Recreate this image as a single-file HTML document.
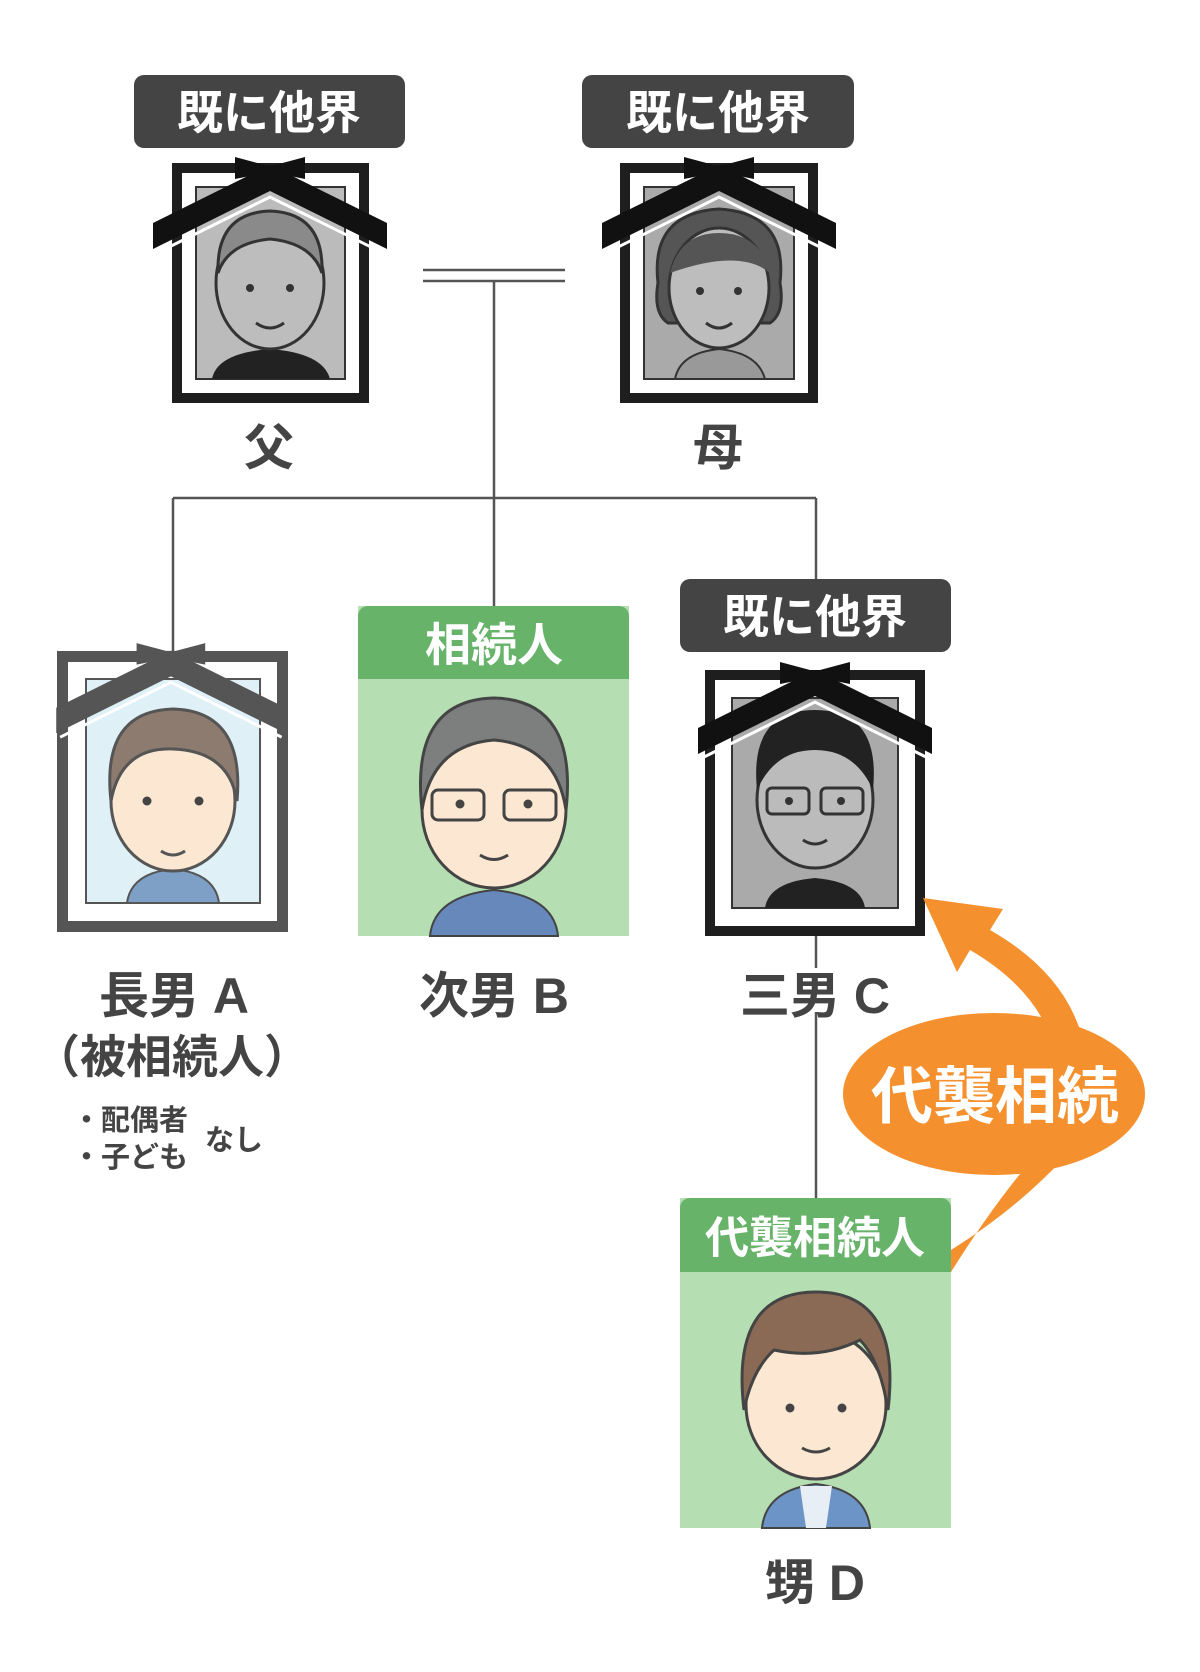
<!DOCTYPE html>
<html><head><meta charset="utf-8"><style>
html,body{margin:0;padding:0;background:#fff;}
svg{display:block;}
text{font-family:"Liberation Sans","Noto Sans CJK JP",sans-serif;font-weight:bold;}
</style></head><body>
<svg width="1200" height="1672" viewBox="0 0 1200 1672" xmlns="http://www.w3.org/2000/svg">
<defs>
<g id="ribbon">
  <path d="M-12,62 L105,4 L222,62 L222,88 L105,30 L-12,88 Z" fill="currentColor"/>
  <path d="M-8,92 L105,36 L218,92" fill="none" stroke="#fff" stroke-width="3"/>
  <path d="M70,-4 L100,4 L110,4 L140,-4 L140,18 L110,12 L100,12 L70,18 Z" fill="currentColor"/>
</g>
</defs>

<g stroke="#555" stroke-width="2.5" fill="none">
  <line x1="423" y1="270" x2="565" y2="270"/>
  <line x1="423" y1="281" x2="565" y2="281"/>
  <line x1="494" y1="281" x2="494" y2="606"/>
  <line x1="173" y1="498" x2="816" y2="498"/>
  <line x1="173" y1="498" x2="173" y2="652"/>
  <line x1="816" y1="498" x2="816" y2="580"/>
  <line x1="816" y1="936" x2="816" y2="968"/>
  <line x1="816" y1="1012" x2="816" y2="1198"/>
</g>

<g>
  <rect x="134" y="75" width="271" height="73" rx="10" fill="#444"/>
  <text x="269" y="129" font-size="46" fill="#fff" text-anchor="middle">既に他界</text>
  <rect x="582" y="75" width="272" height="73" rx="10" fill="#444"/>
  <text x="718" y="129" font-size="46" fill="#fff" text-anchor="middle">既に他界</text>
  <rect x="680" y="579" width="271" height="73" rx="10" fill="#444"/>
  <text x="815" y="633" font-size="46" fill="#fff" text-anchor="middle">既に他界</text>
</g>

<g transform="translate(172,163)">
  <rect x="0" y="0" width="197" height="240" fill="#1e1e1e"/>
  <rect x="10" y="10" width="177" height="220" fill="#fff"/>
  <rect x="24" y="24" width="149" height="192" fill="#bbb" stroke="#333" stroke-width="2"/>
  <path d="M40,216 Q45,190 98,186 Q151,190 158,216 Z" fill="#222"/>
  <ellipse cx="98" cy="120" rx="54" ry="66" fill="#bdbdbd" stroke="#333" stroke-width="3"/>
  <path d="M46,110 Q44,50 98,48 Q152,50 150,110 Q140,80 98,76 Q56,80 46,110 Z" fill="#8a8a8a" stroke="#333" stroke-width="3"/>
  <circle cx="78" cy="125" r="4" fill="#333"/><circle cx="118" cy="125" r="4" fill="#333"/>
  <path d="M84,160 Q98,170 112,160" fill="none" stroke="#333" stroke-width="3"/>
  <g transform="translate(-7,-2)" color="#111"><use href="#ribbon"/></g>
</g>

<g transform="translate(620,163)">
  <rect x="0" y="0" width="198" height="240" fill="#1e1e1e"/>
  <rect x="10" y="10" width="178" height="220" fill="#fff"/>
  <rect x="24" y="24" width="150" height="192" fill="#aaa" stroke="#333" stroke-width="2"/>
  <path d="M55,216 Q60,190 99,186 Q138,190 145,216 Z" fill="#999" stroke="#333" stroke-width="2"/>
  <path d="M38,120 Q30,50 99,46 Q168,50 160,120 Q165,150 150,160 L48,160 Q33,150 38,120 Z" fill="#555" stroke="#333" stroke-width="3"/>
  <ellipse cx="99" cy="125" rx="50" ry="60" fill="#bdbdbd" stroke="#333" stroke-width="3"/>
  <path d="M50,110 Q60,70 99,70 Q140,70 150,110 Q120,85 50,110 Z" fill="#555"/>
  <circle cx="80" cy="128" r="4" fill="#333"/><circle cx="118" cy="128" r="4" fill="#333"/>
  <path d="M86,160 Q99,170 112,160" fill="none" stroke="#333" stroke-width="3"/>
  <g transform="translate(-6,-2)" color="#111"><use href="#ribbon"/></g>
</g>

<text x="269" y="465" font-size="50" fill="#444" text-anchor="middle">父</text>
<text x="718" y="465" font-size="50" fill="#444" text-anchor="middle">母</text>

<g transform="translate(57,651)">
  <rect x="0" y="0" width="231" height="281" fill="#555"/>
  <rect x="11" y="11" width="209" height="259" fill="#fff"/>
  <rect x="29" y="28" width="174" height="224" fill="#dff0f7" stroke="#555" stroke-width="2"/>
  <path d="M70,252 Q74,222 116,218 Q158,222 162,252 Z" fill="#7e9fc6" stroke="#555" stroke-width="2"/>
  <ellipse cx="116" cy="150" rx="62" ry="70" fill="#fce8d2" stroke="#555" stroke-width="3"/>
  <path d="M54,150 Q44,60 116,58 Q188,60 180,150 Q172,100 116,98 Q64,96 54,150 Z" fill="#8c7b6e" stroke="#555" stroke-width="3"/>
  <circle cx="90" cy="150" r="4.5" fill="#444"/><circle cx="142" cy="150" r="4.5" fill="#444"/>
  <path d="M104,200 Q116,208 128,200" fill="none" stroke="#555" stroke-width="3"/>
  <g transform="translate(11,-4) scale(0.98)" color="#555"><use href="#ribbon"/></g>
</g>

<g>
  <rect x="358" y="606" width="271" height="330" fill="#b5dfb3"/>
  <rect x="358" y="606" width="271" height="73" rx="10" fill="#67b36a"/>
  <rect x="358" y="650" width="271" height="29" fill="#67b36a"/>
  <text x="494" y="661" font-size="46" fill="#fff" text-anchor="middle">相続人</text>
  <path d="M430,936 Q434,896 494,890 Q554,896 558,936 Z" fill="#6688bb" stroke="#444" stroke-width="2"/>
  <ellipse cx="494" cy="810" rx="72" ry="78" fill="#fce8d2" stroke="#444" stroke-width="3"/>
  <path d="M422,810 Q410,700 494,698 Q578,700 566,810 Q556,745 494,740 Q432,745 422,810 Z" fill="#7c7f7e" stroke="#444" stroke-width="3"/>
  <rect x="432" y="790" width="52" height="30" rx="6" fill="none" stroke="#444" stroke-width="3"/>
  <rect x="504" y="790" width="52" height="30" rx="6" fill="none" stroke="#444" stroke-width="3"/>
  <circle cx="460" cy="804" r="4.5" fill="#444"/><circle cx="528" cy="804" r="4.5" fill="#444"/>
  <path d="M480,855 Q494,864 508,855" fill="none" stroke="#444" stroke-width="3"/>
</g>

<g transform="translate(705,670)">
  <rect x="0" y="0" width="220" height="266" fill="#1e1e1e"/>
  <rect x="10" y="10" width="200" height="246" fill="#fff"/>
  <rect x="27" y="28" width="166" height="210" fill="#aaa" stroke="#333" stroke-width="2"/>
  <path d="M60,238 Q64,212 110,208 Q156,212 160,238 Z" fill="#222"/>
  <ellipse cx="110" cy="130" rx="58" ry="68" fill="#bbb" stroke="#333" stroke-width="3"/>
  <path d="M52,120 Q44,40 110,40 Q176,40 168,120 Q150,80 110,80 Q70,80 52,120 Z" fill="#222"/>
  <rect x="62" y="118" width="42" height="26" rx="5" fill="none" stroke="#333" stroke-width="3"/>
  <rect x="116" y="118" width="42" height="26" rx="5" fill="none" stroke="#333" stroke-width="3"/>
  <circle cx="84" cy="131" r="4" fill="#333"/><circle cx="136" cy="131" r="4" fill="#333"/>
  <path d="M98,170 Q110,178 122,170" fill="none" stroke="#333" stroke-width="3"/>
  <g transform="translate(5,-4)" color="#111"><use href="#ribbon"/></g>
</g>

<text x="174" y="1013" font-size="50" fill="#444" text-anchor="middle">長男 A</text>
<text x="172" y="1073" font-size="46" fill="#444" text-anchor="middle">（被相続人）</text>
<text x="72" y="1130" font-size="29" fill="#444">・配偶者</text>
<text x="72" y="1167" font-size="29" fill="#444">・子ども</text>
<text x="205" y="1150" font-size="29" fill="#444">なし</text>
<text x="494" y="1013" font-size="50" fill="#444" text-anchor="middle">次男 B</text>
<text x="815" y="1013" font-size="50" fill="#444" text-anchor="middle">三男 C</text>

<g>
  <rect x="680" y="1198" width="271" height="330" fill="#b5dfb3"/>
  <rect x="680" y="1198" width="271" height="74" rx="10" fill="#67b36a"/>
  <rect x="680" y="1242" width="271" height="30" fill="#67b36a"/>
  <text x="815" y="1253" font-size="44" fill="#fff" text-anchor="middle">代襲相続人</text>
  <path d="M762,1528 Q766,1490 816,1484 Q866,1490 870,1528 Z" fill="#6d94c6" stroke="#444" stroke-width="2"/>
  <path d="M800,1486 L832,1486 L826,1528 L806,1528 Z" fill="#e8eef5"/>
  <ellipse cx="816" cy="1405" rx="70" ry="74" fill="#fce8d2" stroke="#444" stroke-width="3"/>
  <path d="M744,1410 Q730,1292 816,1292 Q902,1292 888,1410 Q880,1360 860,1340 Q820,1360 774,1350 Q752,1370 744,1410 Z" fill="#8a6a55" stroke="#444" stroke-width="3"/>
  <circle cx="790" cy="1408" r="4.5" fill="#444"/><circle cx="842" cy="1408" r="4.5" fill="#444"/>
  <path d="M802,1448 Q816,1456 830,1448" fill="none" stroke="#444" stroke-width="3"/>
</g>
<text x="815" y="1600" font-size="50" fill="#444" text-anchor="middle">甥 D</text>

<path d="M951,1250 Q1015,1210 1062,1160 L1025,1168 Q990,1210 951,1272 Z" fill="#f5902e"/>
<path d="M1080,1030 Q1060,970 990,930 L1003,909 L923,898 L957,972 L970,950 Q1030,985 1050,1035 Z" fill="#f5902e"/>
<ellipse cx="994" cy="1094" rx="151" ry="81" fill="#f5902e"/>
<text x="995" y="1118" font-size="62" fill="#fff" text-anchor="middle">代襲相続</text>
</svg>
</body></html>
